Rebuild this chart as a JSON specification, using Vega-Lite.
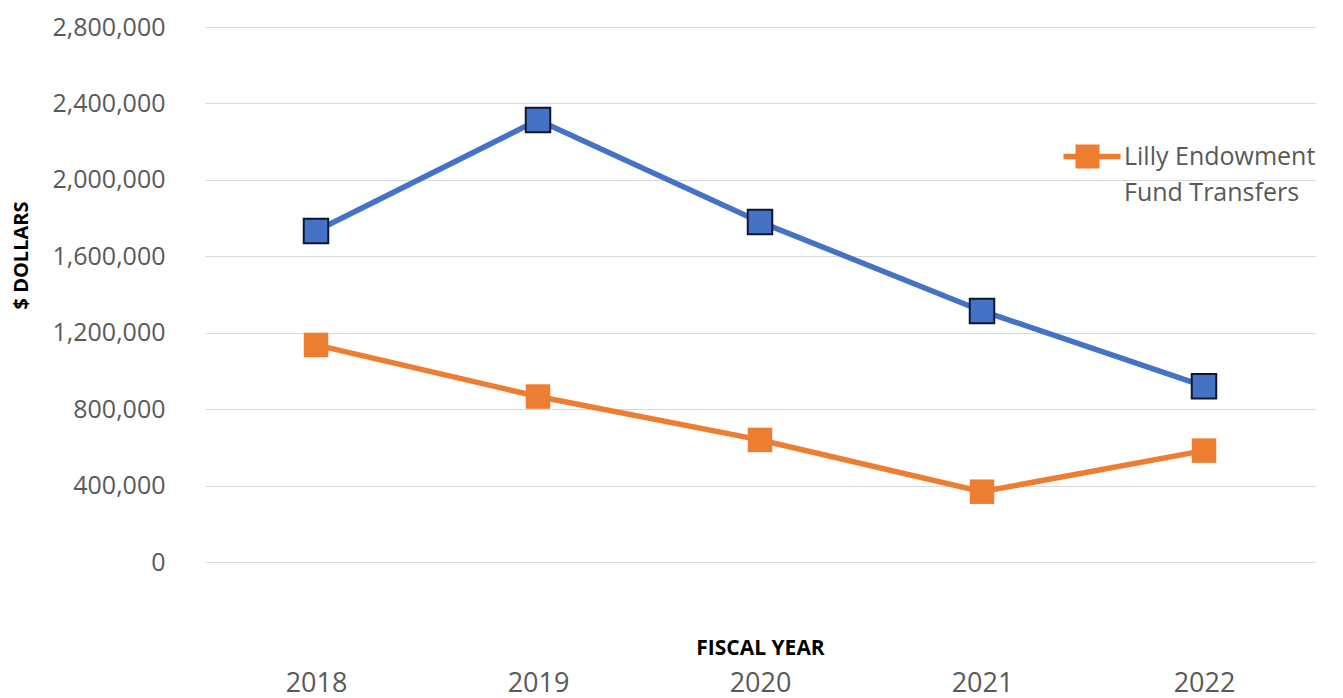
{
  "$schema": "https://vega.github.io/schema/vega-lite/v6.json",
  "width": 1110,
  "height": 535,
  "autosize": {"type": "none"},
  "padding": {"left": 205, "top": 27, "right": 28, "bottom": 136},
  "background": "white",
  "config": {"view": {"stroke": null}},
  "data": {
    "values": [
      {"year": "2018", "series": "Total", "value": 1732000},
      {"year": "2019", "series": "Total", "value": 2313000},
      {"year": "2020", "series": "Total", "value": 1780000},
      {"year": "2021", "series": "Total", "value": 1314000},
      {"year": "2022", "series": "Total", "value": 920000},
      {"year": "2018", "series": "Lilly Endowment Fund Transfers", "value": 1136000},
      {"year": "2019", "series": "Lilly Endowment Fund Transfers", "value": 866000},
      {"year": "2020", "series": "Lilly Endowment Fund Transfers", "value": 639000},
      {"year": "2021", "series": "Lilly Endowment Fund Transfers", "value": 368000},
      {"year": "2022", "series": "Lilly Endowment Fund Transfers", "value": 583000}
    ]
  },
  "encoding": {
    "x": {
      "field": "year", "type": "ordinal",
      "scale": {"type": "point", "padding": 0.5},
      "axis": {
        "title": "FISCAL YEAR", "grid": false, "domain": false, "ticks": false,
        "labelAngle": 0, "labelPadding": 108, "labelBaseline": "top",
        "labelFont": "Open Sans", "labelFontSize": 27, "labelColor": "#595959",
        "titleFont": "Open Sans", "titleFontSize": 21, "titleFontWeight": "bold", "titleColor": "#000000",
        "titleX": 555, "titleY": 86, "titleBaseline": "middle", "titleAlign": "center"
      }
    },
    "y": {
      "field": "value", "type": "quantitative",
      "scale": {"domain": [0, 2800000], "nice": false},
      "axis": {
        "title": "$ DOLLARS", "values": [0, 400000, 800000, 1200000, 1600000, 2000000, 2400000, 2800000],
        "format": ",.0f", "grid": true, "gridColor": "#d9d9d9", "gridWidth": 1,
        "domain": false, "ticks": false, "labelPadding": 40,
        "labelFont": "Open Sans", "labelFontSize": 25, "labelColor": "#595959",
        "titleFont": "Open Sans", "titleFontSize": 20, "titleFontWeight": "bold", "titleColor": "#000000",
        "titleX": -184, "titleY": 228, "titleAngle": -90, "titleAlign": "center", "titleBaseline": "middle"
      }
    },
    "color": {
      "field": "series", "type": "nominal",
      "scale": {"domain": ["Total", "Lilly Endowment Fund Transfers"], "range": ["#4472C4", "#ED7D31"]},
      "legend": {
        "values": ["Lilly Endowment Fund Transfers"],
        "title": null,
        "orient": "none", "legendX": 870, "legendY": 117,
        "padding": 0,
        "symbolType": "M-2.0,-0.22H2.75V0.22H-2.0Z M-1,-1H1V1H-1Z",
        "symbolSize": 576,
        "symbolStrokeWidth": 0,
        "symbolFillColor": "#ED7D31",
        "labelOffset": 24,
        "labelFont": "Open Sans", "labelFontSize": 25, "labelColor": "#595959",
        "labelLimit": 400,
        "labelExpr": "['Lilly Endowment', 'Fund Transfers']",
        "encode": {
          "symbols": {"update": {"fill": {"value": "#ED7D31"}, "stroke": {"value": "transparent"}, "strokeWidth": {"value": 0}, "opacity": {"value": 1}}},
          "labels": {"update": {"lineHeight": {"value": 36}}}
        }
      }
    }
  },
  "layer": [
    {"mark": {"type": "line", "strokeWidth": 5.5}},
    {
      "mark": {"type": "point", "shape": "square", "filled": true, "size": 600, "opacity": 1},
      "encoding": {
        "stroke": {"condition": {"test": "datum.series === 'Total'", "value": "#0d1733"}, "value": "transparent"},
        "strokeWidth": {"condition": {"test": "datum.series === 'Total'", "value": 2}, "value": 0}
      }
    }
  ]
}
